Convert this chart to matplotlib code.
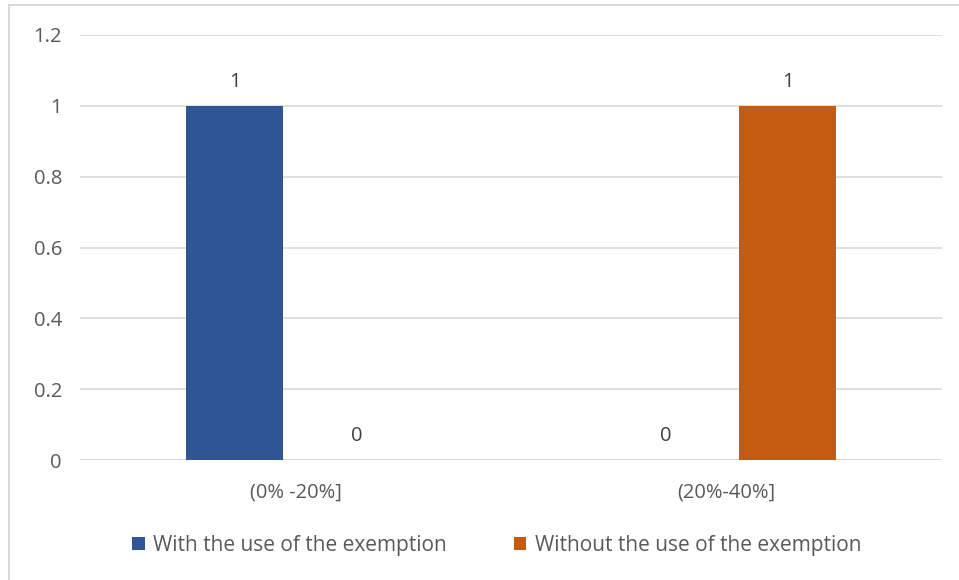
import matplotlib.pyplot as plt
import numpy as np
from matplotlib.lines import Line2D

categories = ['(0% -20%]', '(20%-40%]']
with_exemption = [1, 0]
without_exemption = [0, 1]
series_names = ['With the use of the exemption', 'Without the use of the exemption']

plt.rcParams['font.family'] = ['Open Sans', 'DejaVu Sans']
grey = '#595959'
fs = 14.5

fig = plt.figure(figsize=(9.59, 5.8), dpi=100)
ax = fig.add_axes([80 / 959, 120 / 580, 862 / 959, 425 / 580])

x = np.arange(len(categories))
w = 0.225
off = 0.1415
b1 = ax.bar(x - off, with_exemption, w, color='#2F5597', label=series_names[0], zorder=3)
b2 = ax.bar(x + off, without_exemption, w, color='#C55A11', label=series_names[1], zorder=3)
for bars in (b1, b2):
    ax.bar_label(bars, padding=10, fontsize=fs, color='#404040')

ax.set_xlim(-0.5, 1.5)
ax.set_ylim(0, 1.2)
ax.set_yticks([0, 0.2, 0.4, 0.6, 0.8, 1, 1.2])
ax.set_yticklabels(['0', '0.2', '0.4', '0.6', '0.8', '1', '1.2'])
ax.set_xticks(x)
ax.set_xticklabels(categories)
ax.tick_params(axis='both', length=0, labelsize=fs, labelcolor=grey)
ax.tick_params(axis='y', pad=13)
ax.tick_params(axis='x', pad=16)
ax.grid(axis='y', color='#D9D9D9', linewidth=1.2, zorder=0)
for s in ax.spines.values():
    s.set_visible(False)
ax.axhline(0, color='#D9D9D9', linewidth=1.2, zorder=2)

leg = fig.legend(loc='center', bbox_to_anchor=(0.518, (580 - 545) / 580),
                 ncol=2, frameon=False, fontsize=15, handlelength=0.6, handleheight=0.6,
                 handletextpad=0.4, columnspacing=3.2)
for t in leg.get_texts():
    t.set_color(grey)

# light frame round the chart area
fig.add_artist(Line2D([9 / 959, 9 / 959], [0, 1 - 5 / 580], color='#D9D9D9', linewidth=1.5))
fig.add_artist(Line2D([9 / 959, 1], [1 - 5 / 580, 1 - 5 / 580], color='#D9D9D9', linewidth=1.5))

fig.savefig('out.png', dpi=100)
